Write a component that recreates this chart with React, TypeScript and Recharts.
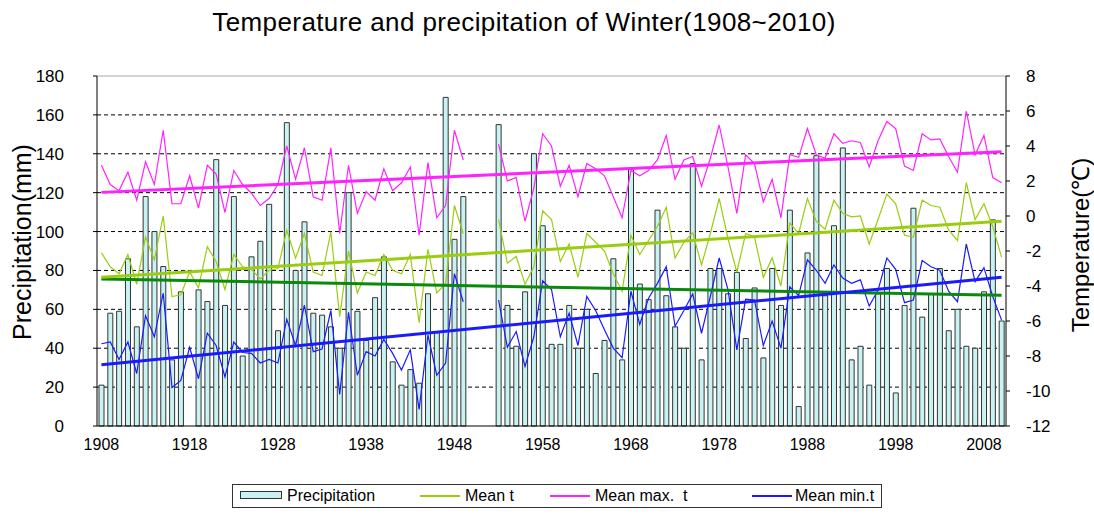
import React from "react";
import {
  ComposedChart,
  Bar,
  Line,
  XAxis,
  YAxis,
  CartesianGrid,
  ReferenceLine,
} from "recharts";

// winter seasons, 1950-1952 have no record
const years = [
  1908, 1909, 1910, 1911, 1912, 1913, 1914, 1915, 1916, 1917, 1918, 1919, 1920,
  1921, 1922, 1923, 1924, 1925, 1926, 1927, 1928, 1929, 1930, 1931, 1932, 1933,
  1934, 1935, 1936, 1937, 1938, 1939, 1940, 1941, 1942, 1943, 1944, 1945, 1946,
  1947, 1948, 1949, 1950, 1951, 1952, 1953, 1954, 1955, 1956, 1957, 1958, 1959,
  1960, 1961, 1962, 1963, 1964, 1965, 1966, 1967, 1968, 1969, 1970, 1971, 1972,
  1973, 1974, 1975, 1976, 1977, 1978, 1979, 1980, 1981, 1982, 1983, 1984, 1985,
  1986, 1987, 1988, 1989, 1990, 1991, 1992, 1993, 1994, 1995, 1996, 1997, 1998,
  1999, 2000, 2001, 2002, 2003, 2004, 2005, 2006, 2007, 2008, 2009, 2010,
];

// mm
const precipitation = [
  21, 58, 59, 86, 51, 118, 100, 82, 34, 69, null, 70, 64,
  137, 62, 118, 36, 87, 95, 114, 49, 156, 80, 105, 58, 57,
  51, 40, 120, 59, 44, 66, 87, 33, 21, 29, 22, 68, 48,
  169, 96, 118, null, null, null, 155, 62, 41, 69, 140, 103, 42,
  42, 62, 40, 60, 27, 44, 86, 34, 132, 73, 65, 111, 67,
  51, 40, 135, 34, 81, 81, 68, 79, 45, 71, 35, 81, 62,
  111, 10, 89, 139, 67, 103, 143, 34, 41, 21, 68, 81, 17,
  62, 112, 56, 68, 81, 49, 60, 41, 40, 69, 106, 54,
];

// deg C
const meanT = [
  -2.1, -2.9, -3.3, -2.2, -3.9, -1.2, -2.5, 0.0, -4.6, -4.5, -3.2, -4.1, -1.75,
  -2.6, -4.2, -2.2, -2.9, -3.05, -3.6, -3.1, -3.0, -0.8, -2.4, -1.0, -3.2, -3.4,
  -0.9, -5.75, -2.0, -4.4, -3.2, -3.4, -2.2, -3.1, -3.3, -2.2, -6.1, -1.9, -4.4,
  -3.85, 0.6, -1.0, null, null, null, -0.2, -2.7, -2.3, -3.9, -2.9, 0.3, -0.2,
  -2.6, -1.6, -3.5, -1.0, -1.5, -2.0, -3.3, -4.3, -1.1, -2.2, -1.4, -0.6, 0.5,
  -2.4, -1.5, -0.95, -2.8, -1.0, 1.0, -1.3, -3.2, -1.0, -1.2, -3.5, -2.4, -4.0,
  -0.4, -1.0, 1.0, -0.3, -0.75, 0.9, 0.15, -0.05, 0.0, -1.6, -0.2, 1.25, 0.7,
  -1.1, -1.2, 0.9, 0.6, 0.5, -0.8, -1.4, 1.9, -0.2, 0.7, -0.6, -2.35,
];

const meanMaxT = [
  2.9, 1.8, 1.45, 2.5, 0.9, 3.1, 1.8, 4.9, 0.7, 0.7, 2.3, 0.45, 2.9,
  2.4, 0.2, 2.6, 1.8, 1.3, 0.6, 1.0, 1.8, 4.0, 2.1, 3.9, 1.1, 0.9,
  3.9, -1.0, 2.9, 0.15, 1.4, 0.9, 2.7, 1.45, 1.9, 2.8, -1.1, 3.05, -0.1,
  0.6, 4.9, 3.2, null, null, null, 4.1, 2.0, 2.2, -0.3, 1.6, 4.7, 4.0,
  1.7, 2.9, 1.1, 3.0, 2.7, 2.3, 1.1, -0.1, 2.6, 2.3, 2.6, 3.2, 4.6,
  2.1, 3.2, 3.4, 1.7, 3.3, 5.2, 2.8, 0.15, 3.5, 3.0, 0.8, 2.1, -0.1,
  3.5, 3.35, 5.0, 3.5, 3.3, 4.7, 4.15, 4.3, 4.2, 2.8, 4.3, 5.4, 5.0,
  2.85, 2.6, 4.7, 4.35, 4.4, 3.4, 2.5, 6.0, 3.5, 4.6, 2.2, 1.9,
];

const meanMinT = [
  -7.3, -7.2, -8.2, -7.2, -9.0, -5.7, -6.9, -4.4, -9.8, -9.4, -7.5, -9.3, -6.7,
  -7.4, -9.2, -7.2, -7.8, -7.85, -8.4, -8.2, -8.4, -5.9, -7.4, -5.1, -7.75, -7.6,
  -5.4, -10.2, -5.5, -9.1, -7.75, -8.0, -7.05, -7.85, -8.8, -7.65, -11.05, -6.8, -9.1,
  -8.4, -3.3, -4.9, null, null, null, -4.8, -7.5, -6.6, -8.6, -6.9, -3.7, -4.2,
  -6.9, -5.55, -7.4, -4.6, -5.4, -6.5, -7.55, -8.1, -4.3, -6.2, -4.7, -3.85, -2.9,
  -6.3, -5.4, -4.45, -6.7, -4.6, -2.4, -4.2, -7.65, -4.75, -4.8, -7.4, -6.0, -7.55,
  -4.05, -4.55, -2.5, -3.1, -3.85, -2.8, -3.55, -3.85, -3.65, -5.15, -4.25, -2.4, -3.05,
  -4.95, -4.8, -2.55, -2.9, -3.1, -4.3, -4.9, -1.6, -3.75, -2.95, -4.6, -5.95,
];

// linear trends, value at the first and last season
const trendYears = [1908, 2010];
const precipTrend = [75.6, 67.2];
const meanTrend = [-3.5, -0.3];
const maxTrend = [1.35, 3.67];
const minTrend = [-8.5, -3.5];

const precipTicks = [0, 20, 40, 60, 80, 100, 120, 140, 160, 180];
const tempTicks = [-12, -10, -8, -6, -4, -2, 0, 2, 4, 6, 8];
const gridValues = [20, 40, 60, 80, 100, 120, 140, 160];

const trendAt = (arr: number[], year: number) => {
  const k = trendYears.indexOf(year);
  return k === -1 ? null : arr[k];
};

const data = years.map((year, i) => ({
  year,
  precip: precipitation[i],
  mean: meanT[i],
  max: meanMaxT[i],
  min: meanMinT[i],
  precipTrend: trendAt(precipTrend, year),
  meanTrend: trendAt(meanTrend, year),
  maxTrend: trendAt(maxTrend, year),
  minTrend: trendAt(minTrend, year),
}));

const FONT = "'Liberation Sans', Arial, sans-serif";
const C_MEAN = "#9acd10";
const C_MAX = "#ff22ff";
const C_MIN = "#1a1aff";
const C_BAR = "#c9f3f3";

const legendItems = [
  { label: "Precipitation", kind: "bar", color: C_BAR, x: 240, tx: 287 },
  { label: "Mean t", kind: "line", color: C_MEAN, x: 420, tx: 465 },
  { label: "Mean max.  t", kind: "line", color: C_MAX, x: 550, tx: 595 },
  { label: "Mean min.t", kind: "line", color: C_MIN, x: 752, tx: 795 },
];

export default function App() {
  return (
    <div
      style={{
        position: "absolute",
        left: 0,
        top: 0,
        width: 1094,
        height: 516,
        background: "#fff",
        fontFamily: FONT,
      }}
    >
      <ComposedChart
        width={1094}
        height={516}
        data={data}
        margin={{ top: 76, right: 0, bottom: 0, left: 0 }}
        barCategoryGap={0}
      >
        <CartesianGrid
          yAxisId="left"
          vertical={false}
          horizontalValues={gridValues}
          stroke="#000"
          strokeDasharray="4 3"
        />
        <XAxis
          dataKey="year"
          height={90}
          interval={9}
          tickLine={false}
          axisLine={{ stroke: "#000" }}
          tickMargin={7}
          tick={{ fill: "#000", fontSize: 16, fontFamily: FONT }}
        />
        <YAxis
          yAxisId="left"
          width={97}
          domain={[0, 180]}
          ticks={precipTicks}
          interval={0}
          tickSize={4}
          tickMargin={29}
          axisLine={{ stroke: "#000" }}
          tickLine={{ stroke: "#000" }}
          tick={{ fill: "#000", fontSize: 17, fontFamily: FONT }}
        />
        <YAxis
          yAxisId="right"
          orientation="right"
          width={88}
          domain={[-12, 8]}
          ticks={tempTicks}
          interval={0}
          tickSize={4}
          tickMargin={16}
          axisLine={{ stroke: "#000" }}
          tickLine={{ stroke: "#000" }}
          tick={{ fill: "#000", fontSize: 17, fontFamily: FONT }}
        />
        <ReferenceLine yAxisId="left" y={180} stroke="#aaa" />
        <Bar
          yAxisId="left"
          dataKey="precip"
          barSize={5}
          fill={C_BAR}
          stroke="#333"
          strokeWidth={1}
          isAnimationActive={false}
        />
        <Line yAxisId="right" dataKey="mean" stroke={C_MEAN} strokeWidth={1.2} dot={false} isAnimationActive={false} />
        <Line yAxisId="right" dataKey="max" stroke={C_MAX} strokeWidth={1.2} dot={false} isAnimationActive={false} />
        <Line yAxisId="right" dataKey="min" stroke={C_MIN} strokeWidth={1.2} dot={false} isAnimationActive={false} />
        <Line yAxisId="left" dataKey="precipTrend" stroke="#0a8a0a" strokeWidth={3} dot={false} connectNulls legendType="none" isAnimationActive={false} />
        <Line yAxisId="right" dataKey="meanTrend" stroke={C_MEAN} strokeWidth={3} dot={false} connectNulls legendType="none" isAnimationActive={false} />
        <Line yAxisId="right" dataKey="maxTrend" stroke={C_MAX} strokeWidth={3} dot={false} connectNulls legendType="none" isAnimationActive={false} />
        <Line yAxisId="right" dataKey="minTrend" stroke={C_MIN} strokeWidth={3} dot={false} connectNulls legendType="none" isAnimationActive={false} />
      </ComposedChart>

      <svg
        width={1094}
        height={516}
        style={{ position: "absolute", left: 0, top: 0, pointerEvents: "none" }}
      >
        <text x={524} y={31} textAnchor="middle" fontSize={26} letterSpacing={0.4} fontFamily={FONT} fill="#000">
          Temperature and precipitation of Winter(1908~2010)
        </text>
        <text
          transform="translate(31,242) rotate(-90)"
          textAnchor="middle"
          fontSize={25}
          fontFamily={FONT}
          fill="#000"
        >
          Precipitation(mm)
        </text>
        <text
          transform="translate(1089,245) rotate(-90)"
          textAnchor="middle"
          fontSize={24}
          fontFamily={FONT}
          fill="#000"
        >
          Temperature(℃)
        </text>
      </svg>

      <div
        style={{
          position: "absolute",
          left: 232,
          top: 484,
          width: 650,
          height: 24,
          border: "1px solid #333",
          boxSizing: "border-box",
        }}
      />
      {legendItems.map((it) => (
        <React.Fragment key={it.label}>
          {it.kind === "bar" ? (
            <div
              style={{
                position: "absolute",
                left: it.x,
                top: 491,
                width: 42,
                height: 8,
                background: it.color,
                border: "1px solid #333",
                boxSizing: "border-box",
              }}
            />
          ) : (
            <div
              style={{
                position: "absolute",
                left: it.x,
                top: 495,
                width: 40,
                height: 1.5,
                background: it.color,
              }}
            />
          )}
          <div
            style={{
              position: "absolute",
              left: it.tx,
              top: 485,
              fontSize: 16,
              lineHeight: "22px",
              whiteSpace: "pre",
              color: "#000",
            }}
          >
            {it.label}
          </div>
        </React.Fragment>
      ))}
    </div>
  );
}
